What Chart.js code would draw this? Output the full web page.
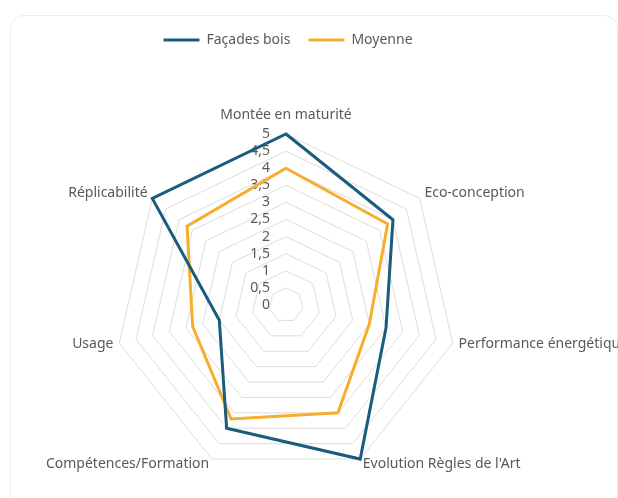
<!DOCTYPE html>
<html>
<head>
<meta charset="utf-8">
<style>
  html, body { margin: 0; padding: 0; background: #fff; }
  #frame { position: absolute; left: 10px; top: 15px; width: 606px; height: 500px; border: 1px solid #ececec; border-radius: 14px; }
  #wrap { position: absolute; left: 0; top: 0; width: 618px; height: 498px; }
</style>
</head>
<body>
<div id="frame"></div>
<div id="wrap"><canvas id="radarChart"></canvas></div>

<script src="https://cdn.jsdelivr.net/npm/chart.js"></script>
<script>
  // axes du radar
  const axisLabels = ['Montée en maturité', 'Eco-conception', 'Performance énergétique', "Evolution Règles de l'Art", 'Compétences/Formation', 'Usage', 'Réplicabilité'];
  const facadesBois = [5, 4, 3, 5, 4, 2, 5];
  const moyenne = [4, 3.8, 2.5, 3.5, 3.7, 2.8, 3.7];
  const tickValues = [0, 0.5, 1, 1.5, 2, 2.5, 3, 3.5, 4, 4.5, 5];

  const CX = 286, CY = 305, R = 171;
  const TEXT = '#595959';
  const FONT = '14px "Noto Sans"';

  // libellés des axes et graduations dessinés sous les lignes
  const radarLabels = {
    id: 'radarLabels',
    beforeDatasetsDraw(chart) {
      const scale = chart.scales.r;
      const ctx = chart.ctx;
      ctx.save();
      ctx.fillStyle = TEXT;
      ctx.font = FONT;

      ctx.textAlign = 'right';
      ctx.textBaseline = 'middle';
      scale.ticks.forEach(t => {
        const d = scale.getDistanceFromCenterForValue(t.value);
        ctx.fillText(t.label, scale.xCenter - 16, scale.yCenter - d);
      });

      axisLabels.forEach((lbl, i) => {
        const sin = Math.sin(scale.getIndexAngle(i));
        let pad = 6;
        let baseline = 'middle';
        if (Math.abs(sin) < 0.01) { pad = 15; baseline = 'alphabetic'; }
        const p = scale.getPointPosition(i, scale.drawingArea + pad);
        ctx.textAlign = sin > 0.01 ? 'left' : (sin < -0.01 ? 'right' : 'center');
        ctx.textBaseline = baseline;
        ctx.fillText(lbl, p.x, i === 1 || i === 6 ? p.y - 2 : p.y);
      });
      ctx.restore();
    }
  };

  const ctx = document.getElementById('radarChart').getContext('2d');
  new Chart(ctx, {
    type: 'radar',
    data: {
      labels: axisLabels,
      datasets: [{
        label: 'Façades bois',
        data: facadesBois,
        borderColor: '#195c7e',
        backgroundColor: '#195c7e',
        borderWidth: 3,
        borderJoinStyle: 'miter',
        pointRadius: 0,
        fill: false
      }, {
        label: 'Moyenne',
        data: moyenne,
        borderColor: '#f7ae2f',
        backgroundColor: '#f7ae2f',
        borderWidth: 3,
        borderJoinStyle: 'miter',
        pointRadius: 0,
        fill: false
      }]
    },
    options: {
      responsive: true,
      maintainAspectRatio: false,
      animation: false,
      layout: { padding: { top: 15, right: 42 } },
      plugins: {
        legend: {
          display: true,
          position: 'top',
          labels: {
            usePointStyle: true,
            pointStyle: 'line',
            pointStyleWidth: 36,
            color: TEXT,
            font: { family: 'Noto Sans', size: 14 },
            padding: 18
          }
        },
        tooltip: { enabled: false }
      },
      scales: {
        r: {
          min: 0,
          max: 5,
          afterBuildTicks(scale) {
            scale.ticks = tickValues.map(v => ({ value: v }));
          },
          afterFit(scale) {
            scale.xCenter = CX;
            scale.yCenter = CY;
            scale.drawingArea = R;
          },
          ticks: {
            display: false,
            callback: v => String(v).replace('.', ',')
          },
          pointLabels: { display: false },
          angleLines: { display: false },
          grid: { color: '#dcdcdc', lineWidth: 1 }
        }
      }
    },
    plugins: [radarLabels]
  });
</script>
</body>
</html>
